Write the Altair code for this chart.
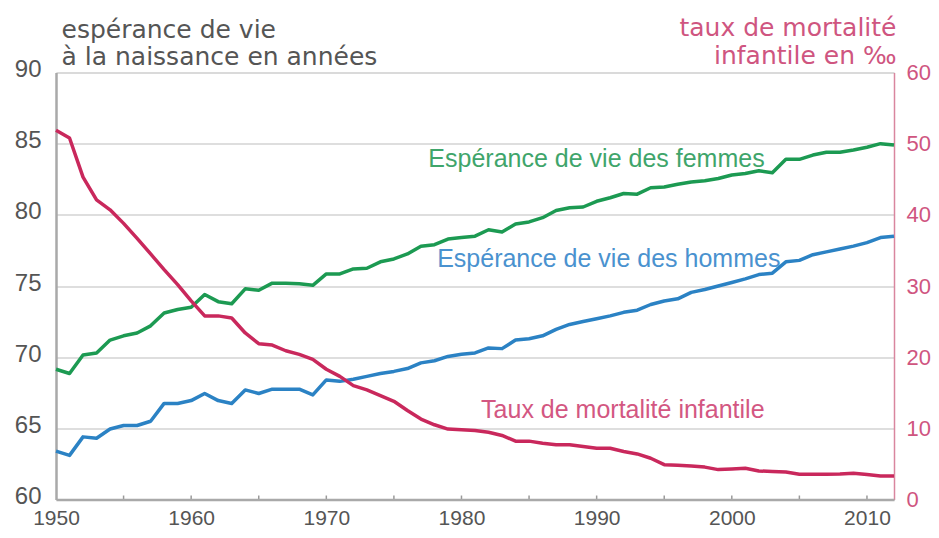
import altair as alt
import pandas as pd

years = list(range(1950, 2013))

femmes = [69.15, 68.85, 70.15, 70.3, 71.2, 71.5, 71.7, 72.2, 73.1, 73.35,
          73.5, 74.4, 73.9, 73.75, 74.8, 74.7, 75.2, 75.2, 75.15, 75.05,
          75.85, 75.85, 76.2, 76.25, 76.7, 76.9, 77.25, 77.8, 77.9, 78.3,
          78.4, 78.5, 78.95, 78.8, 79.35, 79.5, 79.8, 80.3, 80.5, 80.55,
          80.95, 81.2, 81.5, 81.45, 81.9, 81.95, 82.15, 82.3, 82.4, 82.55,
          82.8, 82.9, 83.1, 82.95, 83.9, 83.9, 84.2, 84.4, 84.4, 84.55,
          84.75, 85.0, 84.9]

hommes = [63.4, 63.1, 64.4, 64.3, 64.95, 65.2, 65.2, 65.5, 66.75, 66.75,
          66.95, 67.45, 66.95, 66.75, 67.7, 67.45, 67.75, 67.75, 67.75, 67.35,
          68.4, 68.3, 68.45, 68.65, 68.85, 69.0, 69.2, 69.6, 69.75, 70.05,
          70.2, 70.3, 70.65, 70.6, 71.2, 71.3, 71.5, 71.95, 72.3, 72.5,
          72.7, 72.9, 73.15, 73.3, 73.7, 73.95, 74.1, 74.55, 74.75, 75.0,
          75.25, 75.5, 75.8, 75.9, 76.7, 76.8, 77.2, 77.4, 77.6, 77.8,
          78.05, 78.4, 78.5]

mortalite = [51.9, 50.8, 45.3, 42.1, 40.7, 38.8, 36.7, 34.5, 32.3, 30.2,
             27.9, 25.8, 25.8, 25.5, 23.4, 21.9, 21.7, 20.9, 20.4, 19.7,
             18.3, 17.3, 16.0, 15.4, 14.6, 13.8, 12.5, 11.3, 10.5, 9.9,
             9.8, 9.7, 9.45, 9.0, 8.2, 8.2, 7.9, 7.7, 7.7, 7.45,
             7.2, 7.2, 6.75, 6.4, 5.8, 4.9, 4.8, 4.7, 4.55, 4.2,
             4.3, 4.4, 4.0, 3.95, 3.85, 3.55, 3.55, 3.55, 3.6, 3.7,
             3.5, 3.3, 3.3]

x_label_years = [1950, 1960, 1970, 1980, 1990, 2000, 2010]
minor_tick_years = list(range(1955, 2011, 5))
left_ticks = [60, 65, 70, 75, 80, 85, 90]
right_ticks = [0, 10, 20, 30, 40, 50, 60]

label_texts = ["Espérance de vie des femmes", "Espérance de vie des hommes", "Taux de mortalité infantile"]
label_years = [1977.55, 1978.2, 1981.45]
label_values = [83.39, 76.33, 65.72]
label_colors = ["#3fa56b", "#4a92cf", "#d35782"]

GREEN = "#1c9a52"
BLUE = "#2b82c4"
RED = "#c9285c"
PINK_AXIS = "#d9869f"
PINK_TEXT = "#cf5580"
GRAY = "#555555"

df = pd.DataFrame({"year": years, "femmes": femmes, "hommes": hommes, "mortalite": mortalite})
ticks_df = pd.DataFrame({"year": minor_tick_years, "y0": [60] * len(minor_tick_years),
                         "y1": [60.28] * len(minor_tick_years)})
labels_df = pd.DataFrame({"text": label_texts, "year": label_years, "value": label_values,
                          "color": label_colors})

xscale = alt.Scale(domain=[1950, 2012], nice=False, zero=False)
yleft = alt.Scale(domain=[60, 90], nice=False, zero=False)
yright = alt.Scale(domain=[0, 60], nice=False)

x_axis = alt.Axis(values=x_label_years, format="d", title=None, grid=False, ticks=False,
                  domainColor="#a9a9a9", domainWidth=2.5, labelColor=GRAY, labelFontSize=21,
                  labelFont="Liberation Sans", labelPadding=8, zindex=1, labelFlush=False)

left_axis = alt.Axis(values=left_ticks, title=["espérance de vie", "à la naissance en années"],
                     titleAngle=0, titleAlign="left", titleBaseline="alphabetic",
                     titleX=5, titleY=-35, titleLineHeight=27, titleFont="DejaVu Sans",
                     titleFontSize=25, titleFontWeight="normal", titleColor=GRAY,
                     grid=True, gridColor="#d3d3d3", gridWidth=1.5, ticks=False,
                     domainColor="#a9a9a9", domainWidth=2.5, labelColor=GRAY, labelFontSize=24,
                     labelFont="Liberation Sans", labelPadding=15, labelOffset=-3)

right_axis = alt.Axis(orient="right", values=right_ticks, title=["taux de mortalité", "infantile en ‰"],
                      titleAngle=0, titleAlign="right", titleBaseline="alphabetic",
                      titleX=2, titleY=-37, titleLineHeight=28, titleFont="DejaVu Sans",
                      titleFontSize=25, titleFontWeight="normal", titleColor=PINK_TEXT,
                      grid=False, ticks=False, domainColor=PINK_AXIS, domainWidth=1.5,
                      labelColor=PINK_TEXT, labelFontSize=22, labelFont="Liberation Sans",
                      labelPadding=12)

base = alt.Chart(df)

women = base.mark_line(color=GREEN, strokeWidth=3.5, strokeJoin="round").encode(
    x=alt.X("year:Q", scale=xscale, axis=x_axis),
    y=alt.Y("femmes:Q", scale=yleft, axis=left_axis),
)
men = base.mark_line(color=BLUE, strokeWidth=3.5, strokeJoin="round").encode(
    x=alt.X("year:Q", scale=xscale, axis=x_axis),
    y=alt.Y("hommes:Q", scale=yleft, axis=left_axis),
)
minor_ticks = alt.Chart(ticks_df).mark_rule(color="#9a9a9a", strokeWidth=1.5).encode(
    x=alt.X("year:Q", scale=xscale, axis=x_axis),
    y=alt.Y("y0:Q", scale=yleft, axis=left_axis),
    y2="y1:Q",
)
labels = alt.Chart(labels_df).mark_text(align="left", baseline="alphabetic", fontSize=25,
                                        font="Liberation Sans").encode(
    x=alt.X("year:Q", scale=xscale, axis=x_axis),
    y=alt.Y("value:Q", scale=yleft, axis=left_axis),
    text="text:N",
    color=alt.Color("color:N", scale=None),
)

left_layer = alt.layer(women, men, minor_ticks, labels)

red = base.mark_line(color=RED, strokeWidth=3.5, strokeJoin="round").encode(
    x=alt.X("year:Q", scale=xscale, axis=x_axis),
    y=alt.Y("mortalite:Q", scale=yright, axis=right_axis),
)

chart = alt.layer(left_layer, red).resolve_scale(y="independent").properties(
    width=838, height=427, autosize="none",
    padding={"left": 48, "top": 64.5, "right": 37, "bottom": 30},
).configure_view(stroke=None).configure(background="white")

chart.save("out.html", embed_options={"renderer": "svg", "actions": False})
